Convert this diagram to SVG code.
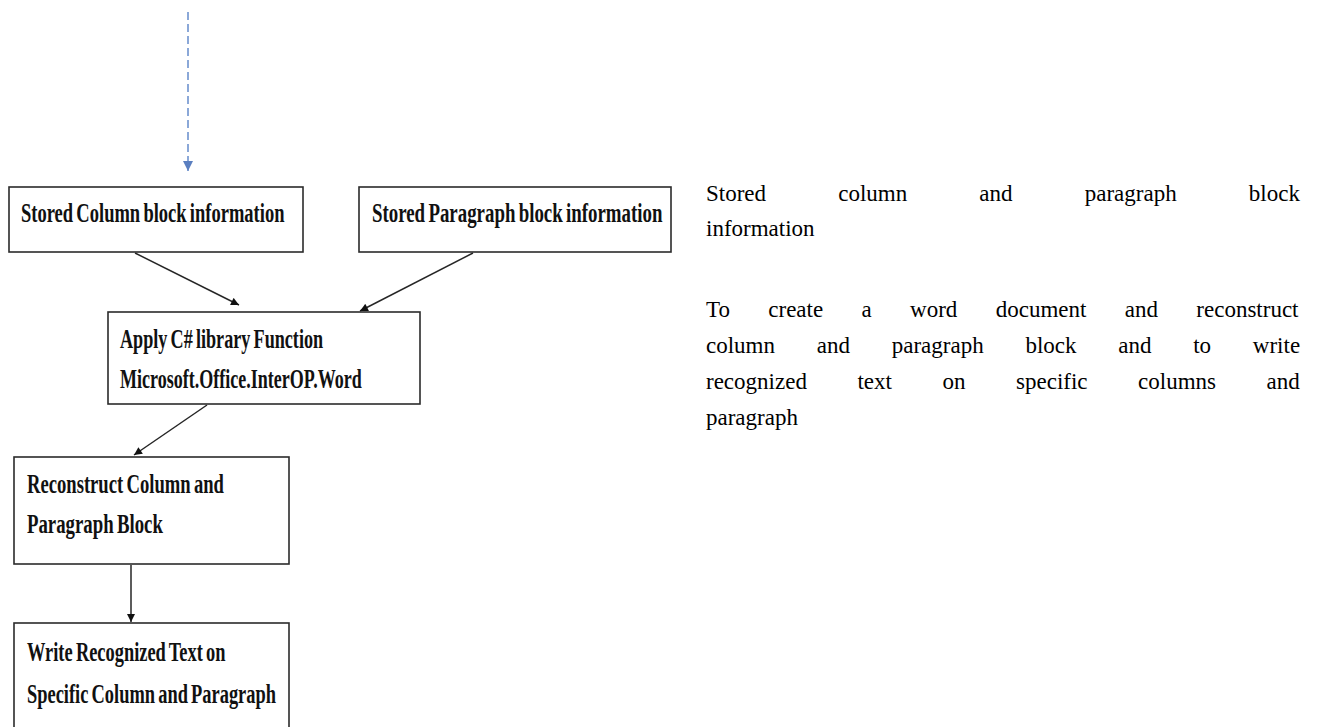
<svg xmlns="http://www.w3.org/2000/svg" width="1320" height="727" viewBox="0 0 1320 727">
  <style>
    .box { fill: #ffffff; stroke: #2b2b2b; stroke-width: 1.6; }
    .lbl { font-family: "Liberation Serif", "Times New Roman", serif; font-size: 27px; font-weight: bold; fill: #111111; word-spacing: -2px; }
    .edge { stroke: #262626; stroke-width: 1.5; fill: none; marker-end: url(#head); }
    .dash { stroke: #6f93cf; stroke-width: 1.6; stroke-dasharray: 8 4; fill: none; marker-end: url(#headBlue); }
    .note { font-family: "Liberation Serif", "Times New Roman", serif; font-size: 23px; fill: #000000; }
  </style>
  <defs>
    <marker id="head" viewBox="0 0 10 10" refX="10" refY="5" markerWidth="9" markerHeight="8" markerUnits="userSpaceOnUse" orient="auto">
      <path d="M0,0 L10,5 L0,10 z" fill="#111111"/>
    </marker>
    <marker id="headBlue" viewBox="0 0 10 10" refX="10" refY="5" markerWidth="13" markerHeight="10" markerUnits="userSpaceOnUse" orient="auto">
      <path d="M0,0 L10,5 L0,10 z" fill="#5b7fc0"/>
    </marker>
  </defs>
  <rect width="1320" height="727" fill="#ffffff"/>

  <!-- connectors -->
  <g id="connectors">
    <line class="dash" x1="188" y1="12" x2="188" y2="171"/>
    <line class="edge" x1="135" y1="253" x2="239" y2="305"/>
    <line class="edge" x1="473" y1="253" x2="360" y2="311"/>
    <line class="edge" x1="207" y1="405" x2="134" y2="455"/>
    <line class="edge" x1="131" y1="565" x2="131" y2="622"/>
  </g>

  <!-- nodes: bold labels squeezed horizontally -->
  <g id="node-column-info">
    <rect class="box" x="9" y="187" width="294" height="65"/>
    <text class="lbl" transform="translate(21,222) scale(0.686,1)">Stored Column block information</text>
  </g>
  <g id="node-paragraph-info">
    <rect class="box" x="359" y="187" width="312" height="65"/>
    <text class="lbl" transform="translate(372,222) scale(0.699,1)">Stored Paragraph block information</text>
  </g>
  <g id="node-apply-library">
    <rect class="box" x="108" y="312" width="312" height="92"/>
    <text class="lbl" transform="translate(120,348) scale(0.672,1)">Apply C# library Function</text>
    <text class="lbl" transform="translate(120,388) scale(0.668,1)">Microsoft.Office.InterOP.Word</text>
  </g>
  <g id="node-reconstruct">
    <rect class="box" x="14" y="457" width="275" height="107"/>
    <text class="lbl" transform="translate(27,493) scale(0.69,1)">Reconstruct Column and</text>
    <text class="lbl" transform="translate(27,533) scale(0.696,1)">Paragraph Block</text>
  </g>
  <g id="node-write-text">
    <rect class="box" x="14" y="623" width="275" height="120"/>
    <text class="lbl" transform="translate(27,661) scale(0.682,1)">Write Recognized Text on</text>
    <text class="lbl" transform="translate(27,703) scale(0.682,1)">Specific Column and Paragraph</text>
  </g>

  <!-- side notes, justified -->
  <g id="notes">
    <text class="note" x="706" y="201" word-spacing="66.4">Stored column and paragraph block</text>
    <text class="note" x="706" y="236">information</text>
    <text class="note" x="706" y="317" word-spacing="32.6">To create a word document and reconstruct</text>
    <text class="note" x="706" y="353" word-spacing="36">column and paragraph block and to write</text>
    <text class="note" x="706" y="389" word-spacing="44.8">recognized text on specific columns and</text>
    <text class="note" x="706" y="425">paragraph</text>
  </g>
</svg>
